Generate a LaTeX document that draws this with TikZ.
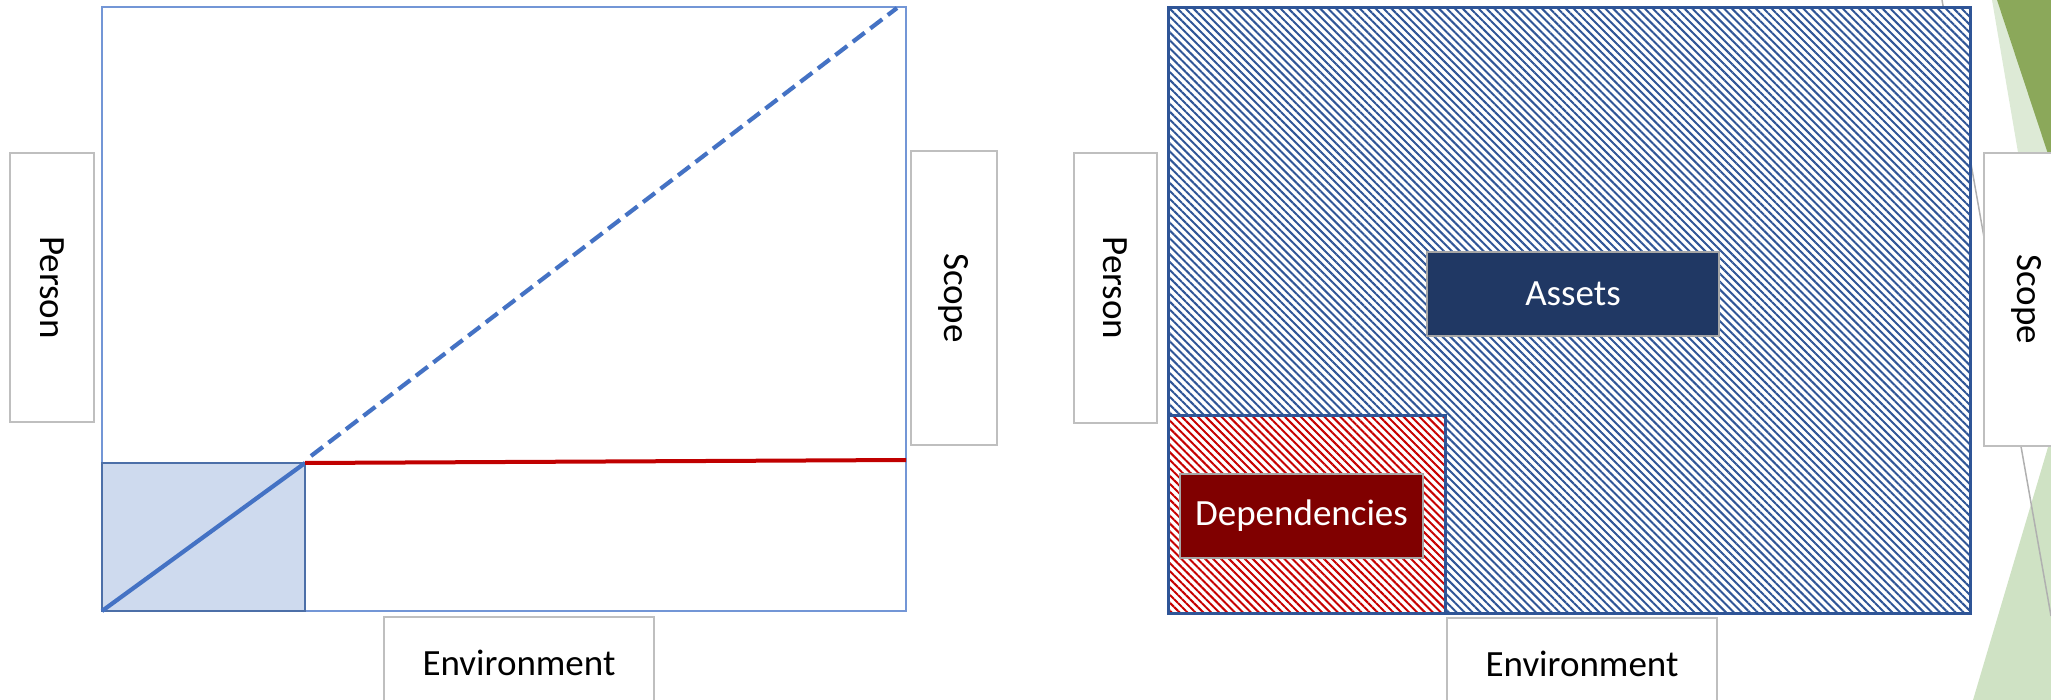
\documentclass[tikz,border=0pt]{standalone}
\usepackage{fontspec}
\setmainfont{Carlito}
\usetikzlibrary{patterns.meta}
\definecolor{frameblue}{HTML}{7396D6}
\definecolor{diagblue}{HTML}{4472C4}
\definecolor{sqfill}{HTML}{CEDAEE}
\definecolor{sqedge}{HTML}{4C6FA8}
\definecolor{redline}{HTML}{C00000}
\definecolor{hatchblue}{HTML}{2F5597}
\definecolor{hatchred}{HTML}{C80000}
\definecolor{boxgray}{HTML}{BFBFBF}
\definecolor{labgray}{HTML}{A6A6A6}
\definecolor{navy}{HTML}{203864}
\definecolor{maroon}{HTML}{800000}
\definecolor{darkgreen}{HTML}{8BA85A}
\definecolor{palegreen}{HTML}{DDEAD6}
\definecolor{softgreen}{HTML}{CFE2C4}
\definecolor{slidegray}{HTML}{B0B0B0}
\begin{document}
\begin{tikzpicture}[x=1pt,y=-1pt,
  axisbox/.style={draw=boxgray, line width=2pt, fill=white, inner sep=0pt,
    font=\fontsize{37}{44}\selectfont, text=black},
  labbox/.style={draw=labgray, line width=2.2pt, inner sep=0pt,
    font=\fontsize{37}{44}\selectfont, text=white},
  frameline/.style={draw=frameblue, line width=1.8pt},
  diagline/.style={draw=diagblue, line width=4.2pt},
  dashdiag/.style={draw=diagblue, line width=4.2pt, dash pattern=on 15pt off 7pt},
  redrule/.style={draw=redline, line width=4pt},
  bluehatch/.style={preaction={fill=white}, pattern={Lines[angle=-45,distance=5.6pt,line width=2pt]}, pattern color=hatchblue},
  redhatch/.style={preaction={fill=white}, pattern={Lines[angle=-45,distance=5.6pt,line width=2pt]}, pattern color=hatchred},
  hatchedge/.style={draw=hatchblue, line width=3pt}
]
\useasboundingbox (0,0) rectangle (2051,700);
\clip (0,0) rectangle (2051,700);

% ---------- left panel ----------
\coordinate (LBL) at (102,611);
\coordinate (LTR) at (906,7);
\coordinate (SQ) at (305,463);
\coordinate (DS) at (311,456);
\coordinate (DE) at (897,8);
\coordinate (RE) at (906,460);
\draw[frameline] (LBL) rectangle (LTR);
\filldraw[fill=sqfill, draw=sqedge, line width=1.6pt] (LBL) rectangle (SQ);
\draw[diagline] (LBL) -- (SQ);
\draw[dashdiag] (DS) -- (DE);
\draw[redrule] (SQ) -- (RE);

\node[axisbox, minimum width=269pt, minimum height=84pt, rotate=-90] (personL) at (52,287.5) {Person};
\node[axisbox, minimum width=294pt, minimum height=86pt, rotate=-90] (scopeL) at (954,298) {Scope};
\node[axisbox, minimum width=270pt, minimum height=92pt] (envL) at (519,663) {Environment};

% ---------- slide decoration ----------
\fill[palegreen] (1992,0) -- (2051,0) -- (2051,170) -- (2021,170) -- cycle;
\fill[darkgreen] (1997,0) -- (2051,0) -- (2051,163) -- cycle;
\fill[softgreen] (2051,437) -- (2051,700) -- (1973,700) -- cycle;
\coordinate (G1) at (1942,0);
\coordinate (G2) at (2051,616);
\draw[slidegray, line width=1.5pt] (G1) -- (G2);

% ---------- right panel ----------
\coordinate (RBL) at (1168,613);
\coordinate (RTR) at (1970,8);
\coordinate (DTR) at (1445,416);
\fill[bluehatch] (RBL) rectangle (RTR);
\fill[redhatch] (RBL) rectangle (DTR);
\draw[hatchedge] (RBL) rectangle (DTR);
\draw[hatchedge] (RBL) rectangle (RTR);

\node[labbox, fill=navy, minimum width=292pt, minimum height=84pt] (assets) at (1573,294) {Assets};
\node[labbox, fill=maroon, minimum width=243pt, minimum height=84pt] (deps) at (1301.5,516) {Dependencies};

\node[axisbox, minimum width=270pt, minimum height=83pt, rotate=-90] (personR) at (1115.5,288) {Person};
\node[axisbox, minimum width=293pt, minimum height=86pt, rotate=-90] (scopeR) at (2027,299.5) {Scope};
\node[axisbox, minimum width=270pt, minimum height=92pt] (envR) at (1582,664) {Environment};
\end{tikzpicture}
\end{document}
